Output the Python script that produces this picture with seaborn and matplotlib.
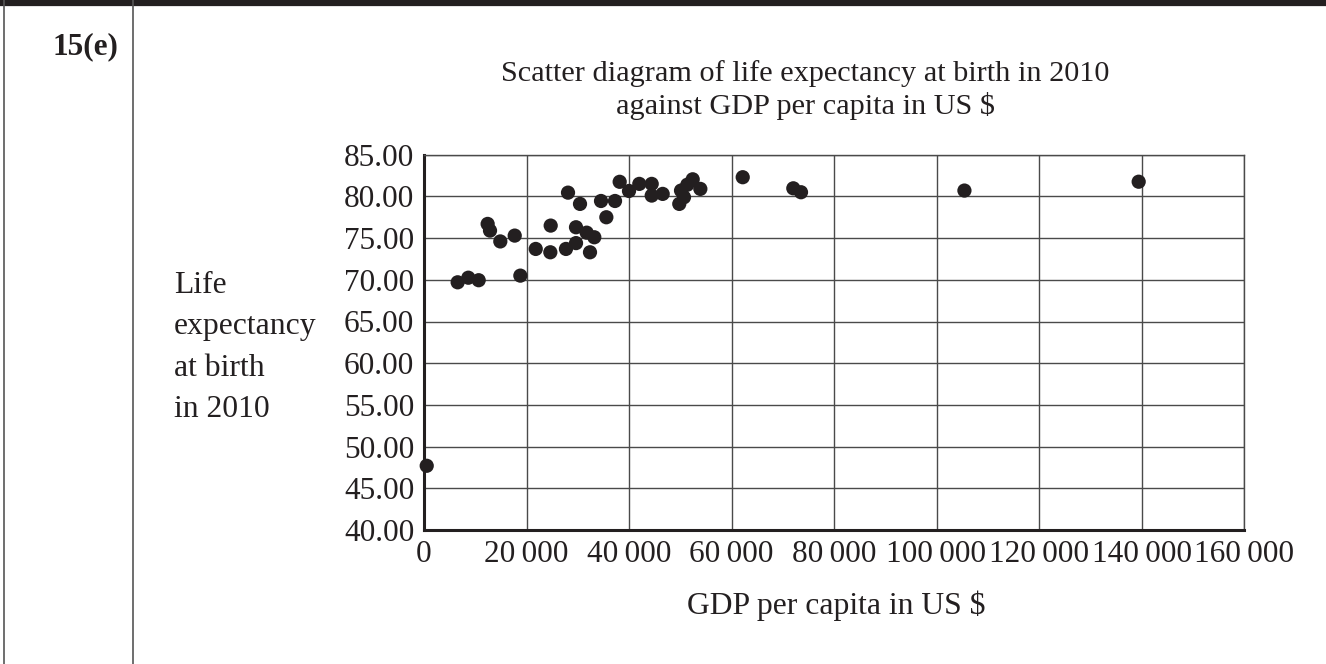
import pandas as pd
import matplotlib.pyplot as plt
import seaborn as sns
from matplotlib.lines import Line2D
from matplotlib.ticker import FixedLocator

# GDP per capita (US $) and life expectancy at birth in 2010
gdp = [530, 6570, 8650, 10670, 12420, 12880, 14890, 17700, 18800, 21800,
       24650, 24720, 27700, 28100, 29660, 29660, 30440, 31740, 32390, 33230,
       34540, 35580, 37270, 38180, 40000, 42010, 44430, 44430, 46570, 49810,
       50150, 50730, 51380, 52430, 53920, 62190, 72060, 73560, 105450, 139450]
life = [47.7, 69.7, 70.25, 69.95, 76.7, 75.9, 74.6, 75.3, 70.5, 73.7,
        73.3, 76.5, 73.7, 80.45, 74.4, 76.3, 79.1, 75.65, 73.3, 75.1,
        79.45, 77.5, 79.45, 81.75, 80.65, 81.5, 81.5, 80.1, 80.3, 79.1,
        80.7, 79.9, 81.4, 82.05, 80.9, 82.3, 80.97, 80.5, 80.7, 81.76]

x_ticks = [0, 20000, 40000, 60000, 80000, 100000, 120000, 140000, 160000]
x_labels = ["0", "20\u2009000", "40\u2009000", "60\u2009000", "80\u2009000",
            "100\u2009000", "120\u2009000", "140\u2009000", "160\u2009000"]
y_ticks = [40, 45, 50, 55, 60, 65, 70, 75, 80, 85]
y_labels = ["%.2f" % v for v in y_ticks]

df = pd.DataFrame({"gdp": gdp, "life": life})

sns.set_style("white")
plt.rcParams['font.family'] = ['Liberation Serif', 'DejaVu Serif']
plt.rcParams['font.size'] = 22.5
ink = "#231f20"

fig = plt.figure(figsize=(13.26, 6.64), dpi=100)
ax = fig.add_axes([424 / 1326, 1 - 530 / 664, (1244 - 424) / 1326, (530 - 154.7) / 664])

sns.scatterplot(data=df, x="gdp", y="life", ax=ax, s=105, color=ink,
                edgecolor="none", zorder=3, clip_on=False)

ax.set_xlim(0, 160000)
ax.set_ylim(40, 85)
ax.xaxis.set_major_locator(FixedLocator(x_ticks))
ax.yaxis.set_major_locator(FixedLocator(y_ticks))
ax.set_xticklabels(x_labels)
ax.set_yticklabels(y_labels)
ax.set_xlabel("")
ax.set_ylabel("")
ax.grid(True, color="#4a4a4a", linewidth=1.0)
ax.set_axisbelow(True)
ax.tick_params(axis="both", direction="out", length=6, width=1.5, color=ink,
               labelcolor=ink, labelsize=22.5, pad=1)
for side in ["top", "right"]:
    ax.spines[side].set_color("#4a4a4a")
    ax.spines[side].set_linewidth(1.0)
for side in ["left", "bottom"]:
    ax.spines[side].set_color(ink)
    ax.spines[side].set_linewidth(2.2)

# titles and labels
fig.text(805 / 1326, 1 - 60 / 664,
         "Scatter diagram of life expectancy at birth in 2010\nagainst GDP per capita in US $",
         ha="center", va="top", fontsize=21.8, color=ink, linespacing=1.22)
fig.text(836 / 1326, 1 - 606 / 664, "GDP per capita in US $",
         ha="center", va="center", fontsize=22.8, color=ink)
fig.text(174 / 1326, 1 - 271 / 664, "Life\nexpectancy\nat birth\nin 2010",
         ha="left", va="top", fontsize=22.8, color=ink, linespacing=1.56)
fig.text(118 / 1326, 1 - 47 / 664, "15(e)", ha="right", va="center",
         fontsize=22.5, fontweight="bold", color=ink)

# page frame
fig.add_artist(Line2D([0, 1], [1 - 3 / 664, 1 - 3 / 664], transform=fig.transFigure,
                      color=ink, linewidth=4.5))
fig.add_artist(Line2D([4 / 1326, 4 / 1326], [0, 1], transform=fig.transFigure,
                      color="#555555", linewidth=1.2))
fig.add_artist(Line2D([133 / 1326, 133 / 1326], [0, 1], transform=fig.transFigure,
                      color="#555555", linewidth=1.2))

fig.savefig("out.png", dpi=100)
